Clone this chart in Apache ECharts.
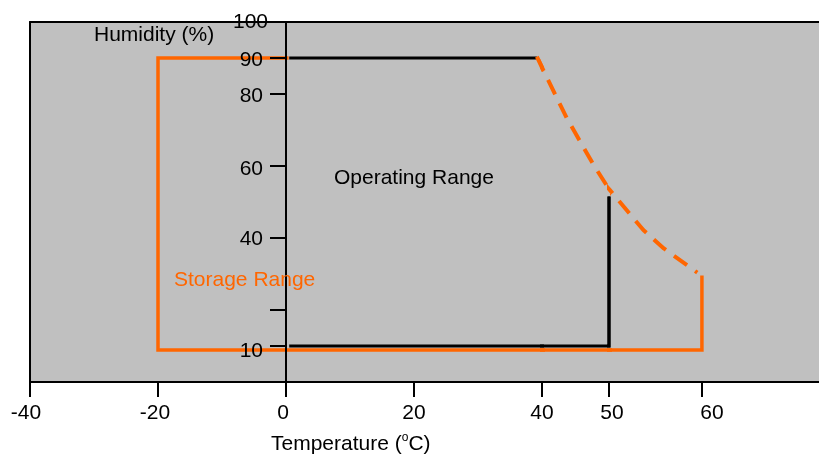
<!DOCTYPE html>
<html><head><meta charset="utf-8">
<script src="https://cdn.jsdelivr.net/npm/echarts@6/dist/echarts.min.js"></script>
<style>html,body{margin:0;padding:0;background:#fff}#c{width:819px;height:454px}</style>
</head><body><div id="c"></div>
<script>
// ---- data (temperature in °C, relative humidity in %) ----
const xTickTemps = [-40, -20, 0, 20, 40, 50, 60];
const yTickHums = [10, 20, 40, 60, 80, 90, 100];
const yLabelHums = [10, 40, 60, 80, 90, 100];
const operatingTop = [[0.5, 90], [39.2, 90]];
const operatingRight = [[50, 51.5], [50, 10], [0.5, 10]];
const storageOutline = [[0.4, 90], [-20, 90], [-20, 8.9], [60, 8.9], [60, 29.6]];
const deratingCurve = [[39.2, 90.4], [43.7, 73.3], [47.7, 60.3], [50.1, 53.3], [53.7, 42.2], [55.9, 37.1], [59.5, 30.4]];

// ---- styling / layout ----
const BLACK = '#000000', ORANGE = '#ff6600', GRAY = '#c0c0c0';
const FONT = '"Liberation Sans", Arial, Helvetica, sans-serif';
const FS = 21;
// the original temperature axis is piecewise: three linear segments side by side
const segs = [
  { left: 30, width: 512, min: -40, max: 40, lo: true },
  { left: 542, width: 67, min: 40, max: 50, lo: false },
  { left: 609, width: 210, min: 50, max: 72.6, lo: false }
];
const Y_AXIS_OFFSET = -256; // humidity axis sits at 0 °C
const xLabelPad = { '-40': [0, 8, 0, 0], '-20': [0, 6, 0, 0], '0': [0, 6, 0, 0], '20': [0, 0, 0, 0], '40': [0, 0, 0, 0], '50': [0, 0, 0, 6], '60': [0, 0, 0, 20] };
const yLabelPad = { '100': [0, 0, 0, 0], '90': [4, 5, 0, 0], '80': [4, 5, 0, 0], '60': [7, 5, 0, 0], '40': [2, 5, 0, 0], '10': [10, 5, 0, 0] };

function richFor(pads) {
  const r = {};
  Object.keys(pads).forEach((k, i) => {
    r['k' + i] = { padding: pads[k], fontSize: FS, fontFamily: FONT, color: BLACK };
  });
  return r;
}
function fmtFor(pads) {
  const keys = Object.keys(pads);
  return v => {
    const i = keys.indexOf(String(v));
    return i < 0 ? String(v) : '{k' + i + '|' + v + '}';
  };
}

const grid = [], xAxis = [], yAxis = [], series = [];
segs.forEach((s, i) => {
  grid.push({ left: s.left, width: s.width, top: 22, bottom: 72, show: true, backgroundColor: GRAY, borderWidth: 0, containLabel: false, outerBoundsMode: 'none' });
  const ticks = xTickTemps.filter(t => (s.lo ? t >= s.min : t > s.min) && t <= s.max);
  xAxis.push({
    type: 'value', gridIndex: i, min: s.min, max: s.max, position: 'bottom', z: 1,
    axisLine: { show: true, onZero: false, lineStyle: { color: BLACK, width: 2 } },
    axisTick: { show: true, customValues: ticks, length: 15, lineStyle: { color: BLACK, width: 2 } },
    axisLabel: { show: true, customValues: ticks, margin: 21, color: BLACK, fontSize: FS, fontFamily: FONT, formatter: fmtFor(xLabelPad), rich: richFor(xLabelPad) },
    splitLine: { show: false }
  });
  xAxis.push({
    type: 'value', gridIndex: i, min: s.min, max: s.max, position: 'top',
    axisLine: { show: true, onZero: false, lineStyle: { color: BLACK, width: 2 } },
    axisTick: { show: false }, axisLabel: { show: false }, splitLine: { show: false }
  });
  if (i === 0) {
    yAxis.push({
      type: 'value', gridIndex: 0, min: 0, max: 100, position: 'left', offset: Y_AXIS_OFFSET, z: 5,
      axisLine: { show: true, onZero: false, lineStyle: { color: BLACK, width: 2 } },
      axisTick: { show: true, customValues: yTickHums, length: 16, lineStyle: { color: BLACK, width: 2 } },
      axisLabel: { show: true, customValues: yLabelHums, margin: 18, color: BLACK, fontSize: FS, fontFamily: FONT, formatter: fmtFor(yLabelPad), rich: richFor(yLabelPad) },
      splitLine: { show: false }
    });
    yAxis.push({
      type: 'value', gridIndex: 0, min: 0, max: 100, position: 'left',
      axisLine: { show: true, onZero: false, lineStyle: { color: BLACK, width: 2 } },
      axisTick: { show: false }, axisLabel: { show: false }, splitLine: { show: false }
    });
  } else {
    yAxis.push({ type: 'value', gridIndex: i, min: 0, max: 100, show: false, splitLine: { show: false } });
  }
  const xi = 2 * i, yi = i === 0 ? 0 : i + 1;
  const base = { type: 'line', xAxisIndex: xi, yAxisIndex: yi, symbol: 'none', clip: true, animation: false, silent: true };
  series.push(Object.assign({}, base, { name: 'Operating Range', data: operatingTop, lineStyle: { color: BLACK, width: 3, join: 'miter' } }));
  series.push(Object.assign({}, base, { name: 'Operating Range', data: operatingRight, lineStyle: { color: BLACK, width: 3, join: 'miter' } }));
  series.push(Object.assign({}, base, { name: 'Storage Range', data: storageOutline, lineStyle: { color: ORANGE, width: 3.5, join: 'miter' } }));
  series.push(Object.assign({}, base, { name: 'Storage Range', data: deratingCurve, lineStyle: { color: ORANGE, width: 4, type: [16, 10], cap: 'butt' } }));
});

const chart = echarts.init(document.getElementById('c'), null, { renderer: 'canvas' });
chart.setOption({
  animation: false,
  backgroundColor: '#ffffff',
  grid, xAxis, yAxis, series,
  graphic: [
    { type: 'text', x: 94, y: 35, z: 10, style: { text: 'Humidity (%)', fontSize: FS, fontFamily: FONT, fill: BLACK, align: 'left', verticalAlign: 'middle' } },
    { type: 'text', x: 334, y: 178.5, z: 10, style: { text: 'Operating Range', fontSize: FS, fontFamily: FONT, fill: BLACK, align: 'left', verticalAlign: 'middle' } },
    { type: 'text', x: 174, y: 280, z: 10, style: { text: 'Storage Range', fontSize: FS, fontFamily: FONT, fill: ORANGE, align: 'left', verticalAlign: 'middle' } },
    { type: 'text', x: 271, y: 444, z: 10, style: {
        text: '{n|Temperature (}{s|o}{n|C)}', align: 'left', verticalAlign: 'middle',
        rich: {
          n: { fontSize: FS, fontFamily: FONT, fill: BLACK, lineHeight: 24 },
          s: { fontSize: 12, fontFamily: FONT, fill: BLACK, verticalAlign: 'top', lineHeight: 12 }
        } } }
  ]
});
</script>
</body></html>
